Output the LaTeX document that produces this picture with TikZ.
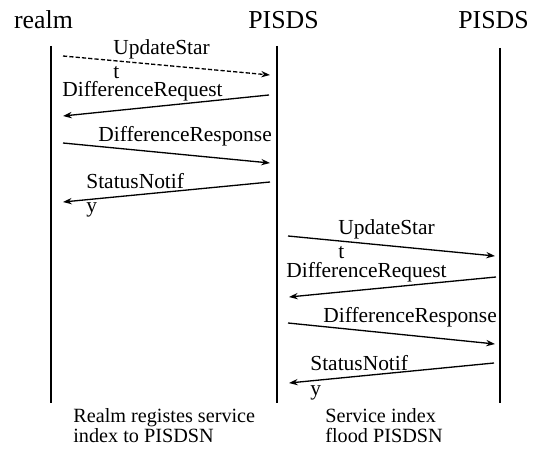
\documentclass[tikz,border=0pt]{standalone}
\usepackage{fontspec}
\setmainfont{Liberation Serif}
\usetikzlibrary{shapes,arrows,arrows.meta}
\tikzset{
  head/.style={font=\fontsize{14.7}{17}\selectfont, anchor=base, inner sep=0pt},
  life/.style={line width=0.6pt},
  msg/.style={line width=0.75pt, -{Stealth[length=5pt,width=3.6pt]}},
  lbl/.style={font=\fontsize{12.2}{14.2}\selectfont, anchor=base west, align=left, inner sep=0pt},
  note/.style={font=\fontsize{11.5}{11}\selectfont, anchor=base west, align=left, inner sep=0pt}
}

\begin{document}
\begin{tikzpicture}
\useasboundingbox (0,0) rectangle (11,-9.04);
%
\node[head] (realm) at (0.87,-0.58) {realm};
\node[head] (pisdsA) at (5.67,-0.58) {PISDS};
\node[head] (pisdsB) at (9.87,-0.58) {PISDS};
%
\coordinate (realmtop) at (1.02,-0.92);
\coordinate (realmbot) at (1.02,-8.06);
\coordinate (atop) at (5.54,-0.92);
\coordinate (abot) at (5.54,-8.06);
\coordinate (btop) at (10.0,-0.96);
\coordinate (bbot) at (10.0,-8.06);
\draw[life] (realmtop) -- (realmbot);
\draw[life] (atop) -- (abot);
\draw[life] (btop) -- (bbot);
%
\coordinate (m1a) at (1.26,-1.12);
\coordinate (m1b) at (5.40,-1.50);
\coordinate (m2a) at (5.38,-1.90);
\coordinate (m2b) at (1.26,-2.32);
\coordinate (m3a) at (1.26,-2.86);
\coordinate (m3b) at (5.40,-3.26);
\coordinate (m4a) at (5.40,-3.64);
\coordinate (m4b) at (1.26,-4.04);
\draw[msg,dashed,dash pattern=on 2.4pt off 1.2pt] (m1a) -- (m1b);
\draw[msg] (m2a) -- (m2b);
\draw[msg] (m3a) -- (m3b);
\draw[msg] (m4a) -- (m4b);
%
\node[lbl,text depth=0pt] (l1) at (2.26,-1.58) {UpdateStar\\t};
\node[lbl] (l2) at (1.24,-1.93) {DifferenceRequest};
\node[lbl] (l3) at (1.96,-2.84) {DifferenceResponse};
\node[lbl] (l4) at (1.72,-4.26) {StatusNotif\\y};
%
\coordinate (m5a) at (5.76,-4.72);
\coordinate (m5b) at (9.90,-5.12);
\coordinate (m6a) at (9.92,-5.54);
\coordinate (m6b) at (5.78,-5.94);
\coordinate (m7a) at (5.76,-6.46);
\coordinate (m7b) at (9.90,-6.88);
\coordinate (m8a) at (9.88,-7.26);
\coordinate (m8b) at (5.78,-7.66);
\draw[msg] (m5a) -- (m5b);
\draw[msg] (m6a) -- (m6b);
\draw[msg] (m7a) -- (m7b);
\draw[msg] (m8a) -- (m8b);
%
\node[lbl,text depth=0pt] (l5) at (6.76,-5.18) {UpdateStar\\t};
\node[lbl] (l6) at (5.72,-5.55) {DifferenceRequest};
\node[lbl] (l7) at (6.46,-6.44) {DifferenceResponse};
\node[lbl] (l8) at (6.20,-7.90) {StatusNotif\\y};
%
\node[note] (n1) at (1.46,-8.84) {Realm registes service\\index to PISDSN};
\node[note] (n2) at (6.50,-8.84) {Service index\\flood PISDSN};
\end{tikzpicture}
\end{document}
